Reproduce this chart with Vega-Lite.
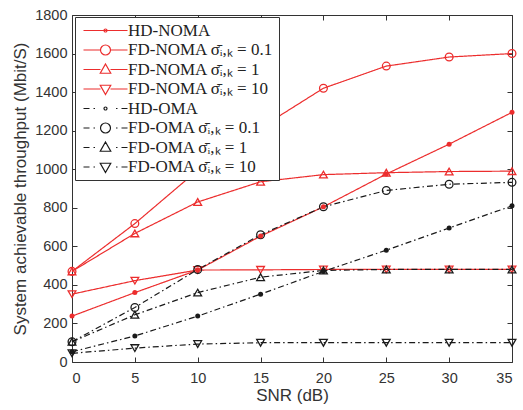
{
  "$schema": "https://vega.github.io/schema/vega-lite/v6.json",
  "width": 440,
  "height": 347,
  "autosize": {"type": "none"},
  "padding": {"left": 72, "top": 15, "right": 11, "bottom": 48},
  "background": "white",
  "config": {
    "view": {"stroke": "#333333", "strokeWidth": 1},
    "axis": {
      "grid": false,
      "domain": false,
      "tickSize": -5,
      "tickColor": "#333333",
      "labelFont": "Liberation Sans",
      "labelFontSize": 14.5,
      "labelColor": "#333333",
      "titleFont": "Liberation Sans",
      "titleFontSize": 17,
      "titleFontWeight": "normal",
      "titleColor": "#333333",
      "format": "d"
    }
  },
  "datasets": {
    "d": [
      {"series": "HD-NOMA", "snr": 0, "value": 238},
      {"series": "HD-NOMA", "snr": 5, "value": 360},
      {"series": "HD-NOMA", "snr": 10, "value": 477},
      {"series": "HD-NOMA", "snr": 15, "value": 653},
      {"series": "HD-NOMA", "snr": 20, "value": 805},
      {"series": "HD-NOMA", "snr": 25, "value": 975},
      {"series": "HD-NOMA", "snr": 30, "value": 1130},
      {"series": "HD-NOMA", "snr": 35, "value": 1295},
      {"series": "FD-NOMA σ̄ᵢ,ₖ = 0.1", "snr": 0, "value": 470},
      {"series": "FD-NOMA σ̄ᵢ,ₖ = 0.1", "snr": 5, "value": 718},
      {"series": "FD-NOMA σ̄ᵢ,ₖ = 0.1", "snr": 10, "value": 995},
      {"series": "FD-NOMA σ̄ᵢ,ₖ = 0.1", "snr": 15, "value": 1215},
      {"series": "FD-NOMA σ̄ᵢ,ₖ = 0.1", "snr": 20, "value": 1420},
      {"series": "FD-NOMA σ̄ᵢ,ₖ = 0.1", "snr": 25, "value": 1535},
      {"series": "FD-NOMA σ̄ᵢ,ₖ = 0.1", "snr": 30, "value": 1582},
      {"series": "FD-NOMA σ̄ᵢ,ₖ = 0.1", "snr": 35, "value": 1600},
      {"series": "FD-NOMA σ̄ᵢ,ₖ = 1", "snr": 0, "value": 470},
      {"series": "FD-NOMA σ̄ᵢ,ₖ = 1", "snr": 5, "value": 667},
      {"series": "FD-NOMA σ̄ᵢ,ₖ = 1", "snr": 10, "value": 830},
      {"series": "FD-NOMA σ̄ᵢ,ₖ = 1", "snr": 15, "value": 935},
      {"series": "FD-NOMA σ̄ᵢ,ₖ = 1", "snr": 20, "value": 972},
      {"series": "FD-NOMA σ̄ᵢ,ₖ = 1", "snr": 25, "value": 982},
      {"series": "FD-NOMA σ̄ᵢ,ₖ = 1", "snr": 30, "value": 988},
      {"series": "FD-NOMA σ̄ᵢ,ₖ = 1", "snr": 35, "value": 990},
      {"series": "FD-NOMA σ̄ᵢ,ₖ = 10", "snr": 0, "value": 352},
      {"series": "FD-NOMA σ̄ᵢ,ₖ = 10", "snr": 5, "value": 422},
      {"series": "FD-NOMA σ̄ᵢ,ₖ = 10", "snr": 10, "value": 477},
      {"series": "FD-NOMA σ̄ᵢ,ₖ = 10", "snr": 15, "value": 478},
      {"series": "FD-NOMA σ̄ᵢ,ₖ = 10", "snr": 20, "value": 480},
      {"series": "FD-NOMA σ̄ᵢ,ₖ = 10", "snr": 25, "value": 480},
      {"series": "FD-NOMA σ̄ᵢ,ₖ = 10", "snr": 30, "value": 480},
      {"series": "FD-NOMA σ̄ᵢ,ₖ = 10", "snr": 35, "value": 480},
      {"series": "HD-OMA", "snr": 0, "value": 53},
      {"series": "HD-OMA", "snr": 5, "value": 135},
      {"series": "HD-OMA", "snr": 10, "value": 238},
      {"series": "HD-OMA", "snr": 15, "value": 352},
      {"series": "HD-OMA", "snr": 20, "value": 470},
      {"series": "HD-OMA", "snr": 25, "value": 580},
      {"series": "HD-OMA", "snr": 30, "value": 695},
      {"series": "HD-OMA", "snr": 35, "value": 810},
      {"series": "FD-OMA σ̄ᵢ,ₖ = 0.1", "snr": 0, "value": 105},
      {"series": "FD-OMA σ̄ᵢ,ₖ = 0.1", "snr": 5, "value": 283},
      {"series": "FD-OMA σ̄ᵢ,ₖ = 0.1", "snr": 10, "value": 480},
      {"series": "FD-OMA σ̄ᵢ,ₖ = 0.1", "snr": 15, "value": 660},
      {"series": "FD-OMA σ̄ᵢ,ₖ = 0.1", "snr": 20, "value": 805},
      {"series": "FD-OMA σ̄ᵢ,ₖ = 0.1", "snr": 25, "value": 890},
      {"series": "FD-OMA σ̄ᵢ,ₖ = 0.1", "snr": 30, "value": 922},
      {"series": "FD-OMA σ̄ᵢ,ₖ = 0.1", "snr": 35, "value": 932},
      {"series": "FD-OMA σ̄ᵢ,ₖ = 1", "snr": 0, "value": 105},
      {"series": "FD-OMA σ̄ᵢ,ₖ = 1", "snr": 5, "value": 245},
      {"series": "FD-OMA σ̄ᵢ,ₖ = 1", "snr": 10, "value": 360},
      {"series": "FD-OMA σ̄ᵢ,ₖ = 1", "snr": 15, "value": 440},
      {"series": "FD-OMA σ̄ᵢ,ₖ = 1", "snr": 20, "value": 475},
      {"series": "FD-OMA σ̄ᵢ,ₖ = 1", "snr": 25, "value": 480},
      {"series": "FD-OMA σ̄ᵢ,ₖ = 1", "snr": 30, "value": 480},
      {"series": "FD-OMA σ̄ᵢ,ₖ = 1", "snr": 35, "value": 480},
      {"series": "FD-OMA σ̄ᵢ,ₖ = 10", "snr": 0, "value": 45},
      {"series": "FD-OMA σ̄ᵢ,ₖ = 10", "snr": 5, "value": 72},
      {"series": "FD-OMA σ̄ᵢ,ₖ = 10", "snr": 10, "value": 93},
      {"series": "FD-OMA σ̄ᵢ,ₖ = 10", "snr": 15, "value": 100},
      {"series": "FD-OMA σ̄ᵢ,ₖ = 10", "snr": 20, "value": 100},
      {"series": "FD-OMA σ̄ᵢ,ₖ = 10", "snr": 25, "value": 100},
      {"series": "FD-OMA σ̄ᵢ,ₖ = 10", "snr": 30, "value": 100},
      {"series": "FD-OMA σ̄ᵢ,ₖ = 10", "snr": 35, "value": 100}
    ]
  },
  "data": {"name": "d"},
  "layer": [
    {
      "mark": {"type": "line", "strokeWidth": 1.2},
      "encoding": {
        "x": {"field": "snr", "type": "quantitative", "scale": {"domain": [0, 35], "nice": false},
              "axis": {"values": [0, 5, 10, 15, 20, 25, 30, 35], "title": "SNR (dB)", "labelPadding": 14, "titlePadding": 3}},
        "y": {"field": "value", "type": "quantitative", "scale": {"domain": [0, 1800], "nice": false},
              "axis": {"values": [0, 200, 400, 600, 800, 1000, 1200, 1400, 1600, 1800], "title": "System achievable throughput (Mbit/S)", "labelPadding": 10, "titlePadding": 5}},
        "color": {"field": "series", "type": "nominal", "legend": null,
                  "scale": {"domain": ["HD-NOMA", "FD-NOMA σ̄ᵢ,ₖ = 0.1", "FD-NOMA σ̄ᵢ,ₖ = 1", "FD-NOMA σ̄ᵢ,ₖ = 10", "HD-OMA", "FD-OMA σ̄ᵢ,ₖ = 0.1", "FD-OMA σ̄ᵢ,ₖ = 1", "FD-OMA σ̄ᵢ,ₖ = 10"],
                            "range": ["#ec2d2d", "#ec2d2d", "#ec2d2d", "#ec2d2d", "#1a1a1a", "#1a1a1a", "#1a1a1a", "#1a1a1a"]}},
        "strokeDash": {"field": "series", "type": "nominal", "legend": null,
                  "scale": {"domain": ["HD-NOMA", "FD-NOMA σ̄ᵢ,ₖ = 0.1", "FD-NOMA σ̄ᵢ,ₖ = 1", "FD-NOMA σ̄ᵢ,ₖ = 10", "HD-OMA", "FD-OMA σ̄ᵢ,ₖ = 0.1", "FD-OMA σ̄ᵢ,ₖ = 1", "FD-OMA σ̄ᵢ,ₖ = 10"],
                            "range": [[1, 0], [1, 0], [1, 0], [1, 0], [6, 3, 1.5, 3], [6, 3, 1.5, 3], [6, 3, 1.5, 3], [6, 3, 1.5, 3]]}}
      }
    },
    {
      "transform": [{"filter": "indexof(datum.series, 'HD') !== 0"}],
      "mark": {"type": "point", "filled": false, "strokeWidth": 1.3, "size": 60, "opacity": 1},
      "encoding": {
        "x": {"field": "snr", "type": "quantitative", "scale": {"domain": [0, 35], "nice": false}, "axis": null},
        "y": {"field": "value", "type": "quantitative", "scale": {"domain": [0, 1800], "nice": false}, "axis": null},
        "color": {"field": "series", "type": "nominal", "legend": null,
                  "scale": {"domain": ["HD-NOMA", "FD-NOMA σ̄ᵢ,ₖ = 0.1", "FD-NOMA σ̄ᵢ,ₖ = 1", "FD-NOMA σ̄ᵢ,ₖ = 10", "HD-OMA", "FD-OMA σ̄ᵢ,ₖ = 0.1", "FD-OMA σ̄ᵢ,ₖ = 1", "FD-OMA σ̄ᵢ,ₖ = 10"],
                            "range": ["#ec2d2d", "#ec2d2d", "#ec2d2d", "#ec2d2d", "#1a1a1a", "#1a1a1a", "#1a1a1a", "#1a1a1a"]}},
        "shape": {"field": "series", "type": "nominal", "legend": null,
                  "scale": {"domain": ["HD-NOMA", "FD-NOMA σ̄ᵢ,ₖ = 0.1", "FD-NOMA σ̄ᵢ,ₖ = 1", "FD-NOMA σ̄ᵢ,ₖ = 10", "HD-OMA", "FD-OMA σ̄ᵢ,ₖ = 0.1", "FD-OMA σ̄ᵢ,ₖ = 1", "FD-OMA σ̄ᵢ,ₖ = 10"],
                            "range": ["circle", "circle", "triangle-up", "triangle-down", "circle", "circle", "triangle-up", "triangle-down"]}}
      }
    },
    {
      "transform": [{"filter": "indexof(datum.series, 'HD') === 0"}],
      "mark": {"type": "point", "filled": true, "size": 25, "shape": "circle", "opacity": 1},
      "encoding": {
        "x": {"field": "snr", "type": "quantitative", "scale": {"domain": [0, 35], "nice": false}, "axis": null},
        "y": {"field": "value", "type": "quantitative", "scale": {"domain": [0, 1800], "nice": false}, "axis": null},
        "color": {"field": "series", "type": "nominal", "legend": null,
                  "scale": {"domain": ["HD-NOMA", "FD-NOMA σ̄ᵢ,ₖ = 0.1", "FD-NOMA σ̄ᵢ,ₖ = 1", "FD-NOMA σ̄ᵢ,ₖ = 10", "HD-OMA", "FD-OMA σ̄ᵢ,ₖ = 0.1", "FD-OMA σ̄ᵢ,ₖ = 1", "FD-OMA σ̄ᵢ,ₖ = 10"],
                            "range": ["#ec2d2d", "#ec2d2d", "#ec2d2d", "#ec2d2d", "#1a1a1a", "#1a1a1a", "#1a1a1a", "#1a1a1a"]}}
      }
    },
    {
      "transform": [{"filter": "false"}],
      "mark": {"type": "point", "size": 100, "filled": false, "opacity": 1, "strokeWidth": 1.2},
      "encoding": {
        "x": {"field": "snr", "type": "quantitative", "scale": {"domain": [0, 35], "nice": false},
              "axis": {"orient": "top", "values": [0, 5, 10, 15, 20, 25, 30, 35], "labels": false, "title": null}},
        "y": {"field": "value", "type": "quantitative", "scale": {"domain": [0, 1800], "nice": false},
              "axis": {"orient": "right", "values": [0, 200, 400, 600, 800, 1000, 1200, 1400, 1600, 1800], "labels": false, "title": null}},
        "color": {"field": "series", "type": "nominal",
                  "scale": {"domain": ["HD-NOMA", "FD-NOMA σ̄ᵢ,ₖ = 0.1", "FD-NOMA σ̄ᵢ,ₖ = 1", "FD-NOMA σ̄ᵢ,ₖ = 10", "HD-OMA", "FD-OMA σ̄ᵢ,ₖ = 0.1", "FD-OMA σ̄ᵢ,ₖ = 1", "FD-OMA σ̄ᵢ,ₖ = 10"],
                            "range": ["#ec2d2d", "#ec2d2d", "#ec2d2d", "#ec2d2d", "#1a1a1a", "#1a1a1a", "#1a1a1a", "#1a1a1a"]},
                  "legend": {"title": null}},
        "shape": {"field": "series", "type": "nominal",
                  "scale": {"domain": ["HD-NOMA", "FD-NOMA σ̄ᵢ,ₖ = 0.1", "FD-NOMA σ̄ᵢ,ₖ = 1", "FD-NOMA σ̄ᵢ,ₖ = 10", "HD-OMA", "FD-OMA σ̄ᵢ,ₖ = 0.1", "FD-OMA σ̄ᵢ,ₖ = 1", "FD-OMA σ̄ᵢ,ₖ = 10"],
                            "range": [
                              "M-4.4,0H4.4M-0.3,0A0.3,0.3,0,1,1,0.3,0A0.3,0.3,0,1,1,-0.3,0",
                              "M-4.4,0H-1M1,0H4.4M-1,0A1,1,0,1,1,1,0A1,1,0,1,1,-1,0",
                              "M-4.4,0H-1M1,0H4.4M0,-1.1L1.05,0.75L-1.05,0.75Z",
                              "M-4.4,0H-1M1,0H4.4M0,1.1L1.05,-0.75L-1.05,-0.75Z",
                              "M-4.4,0H-3.2M-2.4,0H-2.1M2.1,0H2.4M3.2,0H4.4M-0.3,0A0.3,0.3,0,1,1,0.3,0A0.3,0.3,0,1,1,-0.3,0",
                              "M-4.4,0H-3.2M-2.4,0H-2.1M2.1,0H2.4M3.2,0H4.4M-1,0A1,1,0,1,1,1,0A1,1,0,1,1,-1,0",
                              "M-4.4,0H-3.2M-2.4,0H-2.1M2.1,0H2.4M3.2,0H4.4M0,-1.1L1.05,0.75L-1.05,0.75Z",
                              "M-4.4,0H-3.2M-2.4,0H-2.1M2.1,0H2.4M3.2,0H4.4M0,1.1L1.05,-0.75L-1.05,-0.75Z"
                            ]},
                  "legend": {
                    "title": null,
                    "orient": "none",
                    "legendX": 3,
                    "legendY": 2,
                    "fillColor": "white",
                    "strokeColor": "#333333",
                    "padding": 5,
                    "symbolSize": 100,
                    "symbolOffset": 17,
                    "labelOffset": 14,
                    "labelFont": "Liberation Serif",
                    "labelFontSize": 17,
                    "labelColor": "#222222",
                    "labelLimit": 400,
                    "rowPadding": 1.5,
                    "symbolStrokeWidth": 1.2,
                    "symbolOpacity": 1
                  }}
      }
    }
  ],
  "resolve": {"scale": {"shape": "independent", "color": "independent"}, "axis": {"x": "independent", "y": "independent"}}
}
